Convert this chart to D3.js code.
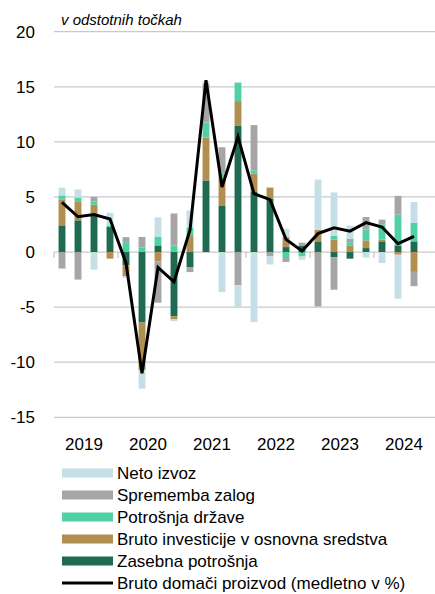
<!DOCTYPE html>
<html>
<head>
<meta charset="utf-8">
<script src="https://cdn.jsdelivr.net/npm/d3@7"></script>
<style>
    body { margin: 0; background: #fff; }
    text { font-family: "Liberation Sans", Arial, sans-serif; fill: #000; }
</style>
</head>
<body>
<script>
//quarters and year labels
let quarters = ["2019Q1","2019Q2","2019Q3","2019Q4","2020Q1","2020Q2","2020Q3","2020Q4",
    "2021Q1","2021Q2","2021Q3","2021Q4","2022Q1","2022Q2","2022Q3","2022Q4",
    "2023Q1","2023Q2","2023Q3","2023Q4","2024Q1","2024Q2","2024Q3","2024Q4"];
let years = ["2019","2020","2021","2022","2023","2024"];
let yTicks = [20, 15, 10, 5, 0, -5, -10, -15];

//contributions in percentage points
let zasebna = [2.42, 2.88, 3.5, 2.27, -1.2, -6.4, 0.6, -5.85, -1.4, 6.5, 4.18, 11.45,
    5.45, 4.85, 0.45, 0.55, 0.97, -0.48, -0.6, 0.36, 0.97, 0.6, 0.97];
let investicije = [2.36, 1.67, 0.8, -0.6, -1.0, -4.3, -0.85, -0.27, 1.45, 3.9, 2.58, 2.25,
    1.67, 1.0, 0.9, 0, 1.06, 1.13, 0.6, 0.7, 0.15, -0.24, -1.8];
let drzava = [0.36, 0.4, 0.3, 0.15, 0.9, 0.4, 0.8, 0.6, 0.76, 1.36, 0.35, 1.68,
    0.3, 0, -0.45, -0.4, 0, 0.33, 0.3, 0.97, 1.4, 2.8, 1.67];
let zalog = [-1.5, -2.5, 0.4, 0, 0.45, 0.97, -3.75, 2.9, -0.42, 3.55, 2.4, -3.0,
    4.1, -0.4, -0.45, 0.3, -4.94, -2.94, 0.3, 1.15, 0.42, 1.7, -1.3];
let izvoz = [0.7, 0.73, -1.6, 1.15, -0.15, -1.7, 1.75, -0.15, 1.55, 0.2, -3.64, -1.97,
    -6.36, -0.73, 0.76, -0.3, 4.55, 3.95, 1.2, -0.5, -1.0, -4.0, 1.9];
//real GDP growth, y-o-y in %
let bdp = [4.5, 3.2, 3.4, 3.0, -1.0, -11.0, -1.4, -2.7, 2.0, 15.6, 5.9, 10.45,
    5.3, 4.76, 1.15, 0.1, 1.67, 2.2, 1.9, 2.67, 2.27, 0.76, 1.43];

window.onload = setChart();

function setChart() {
    let width = 435,
        height = 594;

    let svg = d3.select("body")
        .append("svg")
        .attr("width", width)
        .attr("height", height);

    //series, bottom of stack first
    let series = [
        {key: "zasebna", name: "Zasebna potrošnja", color: "#1f6b51", values: zasebna},
        {key: "investicije", name: "Bruto investicije v osnovna sredstva", color: "#b18f50", values: investicije},
        {key: "drzava", name: "Potrošnja države", color: "#4fd1a5", values: drzava},
        {key: "zalog", name: "Sprememba zalog", color: "#a6a6a6", values: zalog},
        {key: "izvoz", name: "Neto izvoz", color: "#c5dfe6", values: izvoz}
    ];

    let rows = bdp.map(function (v, i) {
        let r = {q: quarters[i]};
        series.forEach(function (s) { r[s.key] = s.values[i]; });
        return r;
    });

    let x = d3.scaleBand()
        .domain(quarters)
        .range([54, 438])
        .paddingInner(0.57)
        .paddingOuter(0.285);

    let y = d3.scaleLinear()
        .domain([-15, 20])
        .range([417.3, 31.7]);

    //gridlines
    svg.append("g")
        .selectAll("line")
        .data(yTicks)
        .enter()
        .append("line")
        .attr("x1", 54)
        .attr("x2", 438)
        .attr("y1", function (d) { return y(d); })
        .attr("y2", function (d) { return y(d); })
        .attr("stroke", "#cacaca")
        .attr("stroke-width", 1.3);

    //year separator ticks on zero line
    let step = x.step();
    svg.append("g")
        .selectAll("line")
        .data(d3.range(years.length + 1))
        .enter()
        .append("line")
        .attr("x1", function (d) { return 54 + d * 4 * step; })
        .attr("x2", function (d) { return 54 + d * 4 * step; })
        .attr("y1", y(0))
        .attr("y2", y(0) + 6)
        .attr("stroke", "#cacaca")
        .attr("stroke-width", 1.3);

    //y labels
    svg.append("g")
        .selectAll("text")
        .data(yTicks)
        .enter()
        .append("text")
        .attr("x", 35)
        .attr("y", function (d) { return y(d); })
        .attr("dy", "0.35em")
        .attr("text-anchor", "end")
        .style("font-size", "17px")
        .text(function (d) { return d; });

    //year labels
    svg.append("g")
        .selectAll("text")
        .data(years)
        .enter()
        .append("text")
        .attr("x", function (d, i) { return 54 + (i * 4 + 2) * step - 2; })
        .attr("y", 450)
        .attr("text-anchor", "middle")
        .style("font-size", "17px")
        .text(function (d) { return d; });

    //unit caption
    svg.append("text")
        .attr("x", 61)
        .attr("y", 25)
        .style("font-size", "15px")
        .style("font-style", "italic")
        .text("v odstotnih točkah");

    //stacked bars
    let stack = d3.stack()
        .keys(series.map(function (s) { return s.key; }))
        .offset(d3.stackOffsetDiverging);

    svg.append("g")
        .selectAll("g")
        .data(stack(rows))
        .enter()
        .append("g")
        .attr("fill", function (d, i) { return series[i].color; })
        .selectAll("rect")
        .data(function (d) { return d; })
        .enter()
        .append("rect")
        .attr("x", function (d) { return x(d.data.q); })
        .attr("width", x.bandwidth())
        .attr("y", function (d) { return y(Math.max(d[0], d[1])); })
        .attr("height", function (d) { return Math.abs(y(d[0]) - y(d[1])); });

    //GDP line
    let line = d3.line()
        .x(function (d, i) { return x(quarters[i]) + x.bandwidth() / 2; })
        .y(function (d) { return y(d); });

    svg.append("path")
        .datum(bdp)
        .attr("d", line)
        .attr("fill", "none")
        .attr("stroke", "#000")
        .attr("stroke-width", 3);

    //legend
    let legendItems = series.slice().reverse();
    let legend = svg.append("g");
    legendItems.forEach(function (s, i) {
        let ly = 473 + i * 22;
        legend.append("rect")
            .attr("x", 62)
            .attr("y", ly - 4.5)
            .attr("width", 51)
            .attr("height", 9)
            .attr("fill", s.color);
        legend.append("text")
            .attr("x", 117)
            .attr("y", ly)
            .attr("dy", "0.35em")
            .style("font-size", "17px")
            .text(s.name);
    });
    let gy = 473 + 5 * 22;
    legend.append("line")
        .attr("x1", 62)
        .attr("x2", 113)
        .attr("y1", gy)
        .attr("y2", gy)
        .attr("stroke", "#000")
        .attr("stroke-width", 3);
    legend.append("text")
        .attr("x", 117)
        .attr("y", gy)
        .attr("dy", "0.35em")
        .style("font-size", "17px")
        .text("Bruto domači proizvod (medletno v %)");
}
</script>
</body>
</html>
